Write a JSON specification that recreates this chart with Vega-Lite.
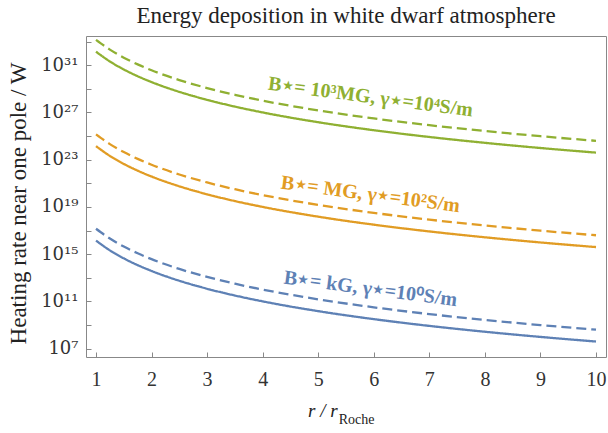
{
  "$schema": "https://vega.github.io/schema/vega-lite/v6.json",
  "autosize": {"type": "none"},
  "width": 520,
  "height": 321,
  "padding": {"left": 86, "top": 36, "right": 2, "bottom": 76},
  "background": "white",
  "config": {
    "view": {"stroke": "#888", "strokeWidth": 1},
    "font": "Liberation Serif"
  },
  "title": {
    "text": "Energy deposition in white dwarf atmosphere",
    "font": "Liberation Serif",
    "fontSize": 23,
    "fontWeight": "normal",
    "color": "#222",
    "anchor": "middle",
    "offset": 8
  },
  "datasets": {
    "curves": [
      {"r": 1, "case": "kG", "kind": "solid", "P": 1.413e16},
      {"r": 1.25, "case": "kG", "kind": "solid", "P": 2.096e15},
      {"r": 1.5, "case": "kG", "kind": "solid", "P": 4.41e14},
      {"r": 1.75, "case": "kG", "kind": "solid", "P": 1.18e14},
      {"r": 2, "case": "kG", "kind": "solid", "P": 3.769e13},
      {"r": 2.5, "case": "kG", "kind": "solid", "P": 5.593e12},
      {"r": 3, "case": "kG", "kind": "solid", "P": 1.177e12},
      {"r": 3.5, "case": "kG", "kind": "solid", "P": 3.15e11},
      {"r": 4, "case": "kG", "kind": "solid", "P": 1.006e11},
      {"r": 5, "case": "kG", "kind": "solid", "P": 1.492e10},
      {"r": 6, "case": "kG", "kind": "solid", "P": 3.14e9},
      {"r": 7, "case": "kG", "kind": "solid", "P": 8.403e8},
      {"r": 8, "case": "kG", "kind": "solid", "P": 2.683e8},
      {"r": 9, "case": "kG", "kind": "solid", "P": 9.799e7},
      {"r": 10, "case": "kG", "kind": "solid", "P": 3.981e7},

      {"r": 1, "case": "kG", "kind": "dashed", "P": 1.413e17},
      {"r": 1.25, "case": "kG", "kind": "dashed", "P": 2.096e16},
      {"r": 1.5, "case": "kG", "kind": "dashed", "P": 4.41e15},
      {"r": 1.75, "case": "kG", "kind": "dashed", "P": 1.18e15},
      {"r": 2, "case": "kG", "kind": "dashed", "P": 3.769e14},
      {"r": 2.5, "case": "kG", "kind": "dashed", "P": 5.593e13},
      {"r": 3, "case": "kG", "kind": "dashed", "P": 1.177e13},
      {"r": 3.5, "case": "kG", "kind": "dashed", "P": 3.15e12},
      {"r": 4, "case": "kG", "kind": "dashed", "P": 1.006e12},
      {"r": 5, "case": "kG", "kind": "dashed", "P": 1.492e11},
      {"r": 6, "case": "kG", "kind": "dashed", "P": 3.14e10},
      {"r": 7, "case": "kG", "kind": "dashed", "P": 8.403e9},
      {"r": 8, "case": "kG", "kind": "dashed", "P": 2.683e9},
      {"r": 9, "case": "kG", "kind": "dashed", "P": 9.799e8},
      {"r": 10, "case": "kG", "kind": "dashed", "P": 3.981e8},

      {"r": 1, "case": "MG", "kind": "solid", "P": 1.413e24},
      {"r": 1.25, "case": "MG", "kind": "solid", "P": 2.096e23},
      {"r": 1.5, "case": "MG", "kind": "solid", "P": 4.41e22},
      {"r": 1.75, "case": "MG", "kind": "solid", "P": 1.18e22},
      {"r": 2, "case": "MG", "kind": "solid", "P": 3.769e21},
      {"r": 2.5, "case": "MG", "kind": "solid", "P": 5.593e20},
      {"r": 3, "case": "MG", "kind": "solid", "P": 1.177e20},
      {"r": 3.5, "case": "MG", "kind": "solid", "P": 3.15e19},
      {"r": 4, "case": "MG", "kind": "solid", "P": 1.006e19},
      {"r": 5, "case": "MG", "kind": "solid", "P": 1.492e18},
      {"r": 6, "case": "MG", "kind": "solid", "P": 3.14e17},
      {"r": 7, "case": "MG", "kind": "solid", "P": 8.403e16},
      {"r": 8, "case": "MG", "kind": "solid", "P": 2.683e16},
      {"r": 9, "case": "MG", "kind": "solid", "P": 9.799e15},
      {"r": 10, "case": "MG", "kind": "solid", "P": 3.981e15},

      {"r": 1, "case": "MG", "kind": "dashed", "P": 1.413e25},
      {"r": 1.25, "case": "MG", "kind": "dashed", "P": 2.096e24},
      {"r": 1.5, "case": "MG", "kind": "dashed", "P": 4.41e23},
      {"r": 1.75, "case": "MG", "kind": "dashed", "P": 1.18e23},
      {"r": 2, "case": "MG", "kind": "dashed", "P": 3.769e22},
      {"r": 2.5, "case": "MG", "kind": "dashed", "P": 5.593e21},
      {"r": 3, "case": "MG", "kind": "dashed", "P": 1.177e21},
      {"r": 3.5, "case": "MG", "kind": "dashed", "P": 3.15e20},
      {"r": 4, "case": "MG", "kind": "dashed", "P": 1.006e20},
      {"r": 5, "case": "MG", "kind": "dashed", "P": 1.492e19},
      {"r": 6, "case": "MG", "kind": "dashed", "P": 3.14e18},
      {"r": 7, "case": "MG", "kind": "dashed", "P": 8.403e17},
      {"r": 8, "case": "MG", "kind": "dashed", "P": 2.683e17},
      {"r": 9, "case": "MG", "kind": "dashed", "P": 9.799e16},
      {"r": 10, "case": "MG", "kind": "dashed", "P": 3.981e16},

      {"r": 1, "case": "TG", "kind": "solid", "P": 1.413e32},
      {"r": 1.25, "case": "TG", "kind": "solid", "P": 2.096e31},
      {"r": 1.5, "case": "TG", "kind": "solid", "P": 4.41e30},
      {"r": 1.75, "case": "TG", "kind": "solid", "P": 1.18e30},
      {"r": 2, "case": "TG", "kind": "solid", "P": 3.769e29},
      {"r": 2.5, "case": "TG", "kind": "solid", "P": 5.593e28},
      {"r": 3, "case": "TG", "kind": "solid", "P": 1.177e28},
      {"r": 3.5, "case": "TG", "kind": "solid", "P": 3.15e27},
      {"r": 4, "case": "TG", "kind": "solid", "P": 1.006e27},
      {"r": 5, "case": "TG", "kind": "solid", "P": 1.492e26},
      {"r": 6, "case": "TG", "kind": "solid", "P": 3.14e25},
      {"r": 7, "case": "TG", "kind": "solid", "P": 8.403e24},
      {"r": 8, "case": "TG", "kind": "solid", "P": 2.683e24},
      {"r": 9, "case": "TG", "kind": "solid", "P": 9.799e23},
      {"r": 10, "case": "TG", "kind": "solid", "P": 3.981e23},

      {"r": 1, "case": "TG", "kind": "dashed", "P": 1.413e33},
      {"r": 1.25, "case": "TG", "kind": "dashed", "P": 2.096e32},
      {"r": 1.5, "case": "TG", "kind": "dashed", "P": 4.41e31},
      {"r": 1.75, "case": "TG", "kind": "dashed", "P": 1.18e31},
      {"r": 2, "case": "TG", "kind": "dashed", "P": 3.769e30},
      {"r": 2.5, "case": "TG", "kind": "dashed", "P": 5.593e29},
      {"r": 3, "case": "TG", "kind": "dashed", "P": 1.177e29},
      {"r": 3.5, "case": "TG", "kind": "dashed", "P": 3.15e28},
      {"r": 4, "case": "TG", "kind": "dashed", "P": 1.006e28},
      {"r": 5, "case": "TG", "kind": "dashed", "P": 1.492e27},
      {"r": 6, "case": "TG", "kind": "dashed", "P": 3.14e26},
      {"r": 7, "case": "TG", "kind": "dashed", "P": 8.403e25},
      {"r": 8, "case": "TG", "kind": "dashed", "P": 2.683e25},
      {"r": 9, "case": "TG", "kind": "dashed", "P": 9.799e24},
      {"r": 10, "case": "TG", "kind": "dashed", "P": 3.981e24}
    ],
    "labels": [
      {"r": 5.94, "P": 2.0e28, "case": "TG", "label": "B⋆= 10³MG, γ⋆=10⁴S/m"},
      {"r": 5.94, "P": 1.15e20, "case": "MG", "label": "B⋆= MG, γ⋆=10²S/m"},
      {"r": 5.94, "P": 1.15e12, "case": "kG", "label": "B⋆= kG, γ⋆=10⁰S/m"}
    ],
    "xtitle": [
      {"r": 5.35, "P": 15, "part": "r / r"},
      {"r": 5.37, "P": 3.9, "part": "Roche"}
    ]
  },
  "encoding": {
    "x": {
      "field": "r",
      "type": "quantitative",
      "scale": {"domain": [0.82, 10.18], "nice": false, "zero": false},
      "axis": {
        "values": [1, 2, 3, 4, 5, 6, 7, 8, 9, 10],
        "title": null,
        "grid": false,
        "domain": false,
        "tickSize": -5,
        "tickColor": "#888",
        "labelPadding": 17,
        "labelFont": "Liberation Serif",
        "labelFontSize": 20,
        "labelColor": "#333",
        "labelFlush": false
      }
    },
    "y": {
      "field": "P",
      "type": "quantitative",
      "scale": {"type": "log", "domain": [1.95e6, 3.0e33], "nice": false},
      "axis": {
        "values": [1e7, 1e9, 1e11, 1e13, 1e15, 1e17, 1e19, 1e21, 1e23, 1e25, 1e27, 1e29, 1e31, 1e33],
        "labelExpr": "(round(log(datum.value)/LN10) - 7) % 4 == 0 ? ['10⁷','10¹¹','10¹⁵','10¹⁹','10²³','10²⁷','10³¹'][(round(log(datum.value)/LN10) - 7) / 4] : ''",
        "title": "Heating rate near one pole / W",
        "titleFont": "Liberation Serif",
        "titleFontSize": 23,
        "titleFontWeight": "normal",
        "titleColor": "#222",
        "titleX": -68,
        "titleY": 167,
        "titleAngle": -90,
        "titleAlign": "center",
        "titleBaseline": "middle",
        "grid": false,
        "domain": false,
        "tickSize": -5,
        "tickColor": "#888",
        "labelPadding": 13,
        "labelFont": "DejaVu Serif",
        "labelFontSize": 18,
        "labelColor": "#333",
        "labelFlush": false
      }
    }
  },
  "layer": [
    {
      "data": {"name": "curves"},
      "mark": {"type": "line", "strokeWidth": 2.3, "interpolate": "monotone", "clip": true},
      "encoding": {
        "color": {
          "field": "case",
          "type": "nominal",
          "scale": {"domain": ["kG", "MG", "TG"], "range": ["#5E81B5", "#E19C24", "#8FB032"]},
          "legend": null
        },
        "strokeDash": {
          "field": "kind",
          "type": "nominal",
          "scale": {"domain": ["solid", "dashed"], "range": [[1, 0], [10, 5]]},
          "legend": null
        },
        "detail": {"field": "kind"}
      }
    },
    {
      "data": {"name": "labels"},
      "mark": {"type": "text", "angle": 7.5, "font": "Liberation Serif", "fontSize": 20, "fontWeight": "bold", "align": "center", "baseline": "middle"},
      "encoding": {
        "text": {"field": "label"},
        "color": {"field": "case", "type": "nominal", "legend": null}
      }
    },
    {
      "data": {"name": "xtitle"},
      "transform": [{"filter": "datum.part === 'r / r'"}],
      "mark": {"type": "text", "font": "Liberation Serif", "fontSize": 19, "fontStyle": "italic", "color": "#222", "align": "right", "baseline": "alphabetic", "clip": false},
      "encoding": {"text": {"field": "part"}}
    },
    {
      "data": {"name": "xtitle"},
      "transform": [{"filter": "datum.part === 'Roche'"}],
      "mark": {"type": "text", "font": "Liberation Serif", "fontSize": 14, "color": "#222", "align": "left", "baseline": "alphabetic", "clip": false},
      "encoding": {"text": {"field": "part"}}
    }
  ]
}
